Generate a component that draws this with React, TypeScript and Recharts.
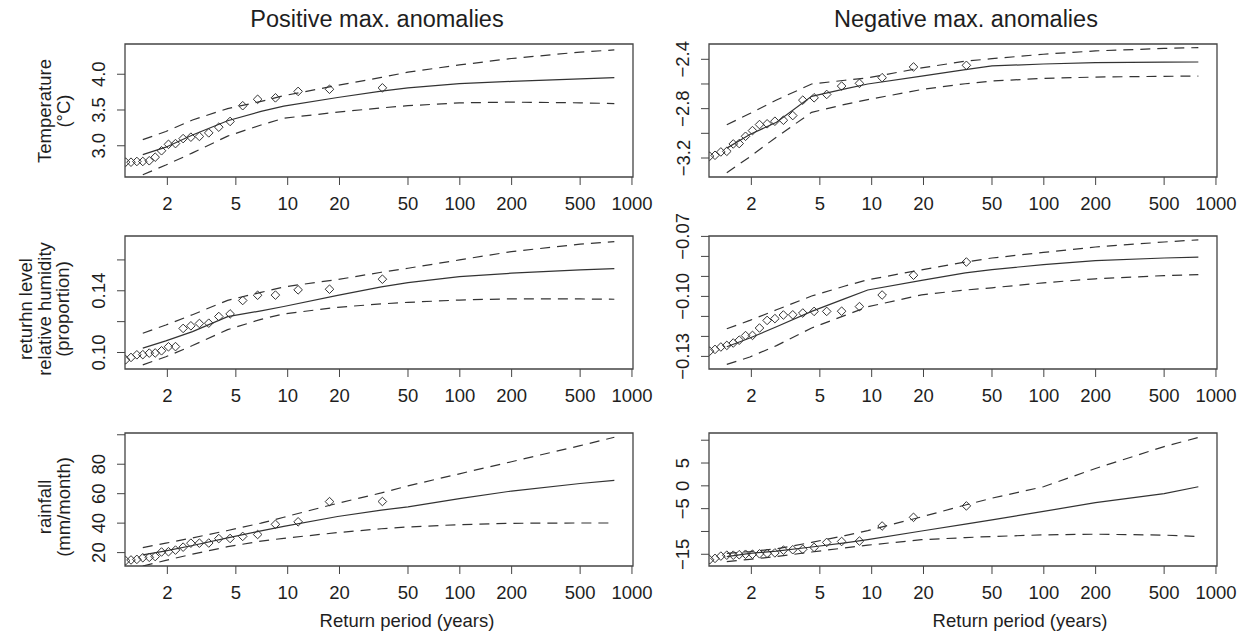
import React from "react";
import { ComposedChart, Line, Scatter, XAxis, YAxis, ReferenceArea } from "recharts";

// empirical return periods (years) of the plotted maxima
const returnPeriods = [1.145, 1.23, 1.33, 1.44, 1.57, 1.7, 1.85, 2.03, 2.23, 2.47, 2.74, 3.07, 3.48, 3.98, 4.63, 5.48, 6.69, 8.49, 11.5, 17.5, 35.5];
// return periods where the fitted curve and its bounds are drawn
const curvePeriods = [1.44, 1.96, 2.8, 4.48, 7, 9.49, 19.5, 35, 50, 99.5, 199.5, 500, 790];
const xTicks = [2, 5, 10, 20, 50, 100, 200, 500, 1000];

// temperature, positive anomalies
const tempPosPoints = [2.77, 2.77, 2.78, 2.78, 2.79, 2.84, 2.93, 3.02, 3.03, 3.1, 3.12, 3.13, 3.18, 3.26, 3.34, 3.56, 3.65, 3.67, 3.76, 3.79, 3.81];
const tempPosFit = [2.875, 2.98, 3.15, 3.35, 3.48, 3.555, 3.675, 3.765, 3.81, 3.87, 3.9, 3.935, 3.953];
const tempPosUpper = [3.085, 3.2, 3.36, 3.52, 3.62, 3.7, 3.845, 3.955, 4.03, 4.13, 4.22, 4.31, 4.34];
const tempPosLower = [2.595, 2.73, 2.9, 3.135, 3.29, 3.385, 3.47, 3.53, 3.56, 3.6, 3.61, 3.6, 3.59];

// temperature, negative anomalies
const tempNegPoints = [-3.186, -3.178, -3.151, -3.146, -3.086, -3.083, -3.024, -2.978, -2.929, -2.923, -2.902, -2.894, -2.856, -2.731, -2.712, -2.685, -2.617, -2.595, -2.549, -2.462, -2.449];
const tempNegFit = [-3.12, -3.01, -2.91, -2.7, -2.64, -2.6, -2.537, -2.484, -2.454, -2.438, -2.427, -2.423, -2.422];
const tempNegUpper = [-2.93, -2.84, -2.73, -2.6, -2.57, -2.55, -2.47, -2.415, -2.395, -2.359, -2.332, -2.312, -2.305];
const tempNegLower = [-3.32, -3.19, -3.03, -2.83, -2.765, -2.727, -2.645, -2.598, -2.576, -2.555, -2.544, -2.538, -2.536];

// relative humidity, positive anomalies
const humPosPoints = [0.0953, 0.0968, 0.0985, 0.0986, 0.0996, 0.0997, 0.1011, 0.1037, 0.1038, 0.1156, 0.1173, 0.1188, 0.119, 0.1233, 0.125, 0.1337, 0.1371, 0.1372, 0.1406, 0.141, 0.1475];
const humPosFit = [0.1028, 0.1075, 0.1135, 0.1232, 0.127, 0.1298, 0.137, 0.1425, 0.1453, 0.1492, 0.1514, 0.1535, 0.1544];
const humPosUpper = [0.1125, 0.1178, 0.1245, 0.1338, 0.139, 0.1425, 0.1473, 0.152, 0.1546, 0.16, 0.1654, 0.1702, 0.1719];
const humPosLower = [0.092, 0.0972, 0.1045, 0.1148, 0.1215, 0.125, 0.1293, 0.1315, 0.1325, 0.134, 0.1348, 0.1347, 0.1345];

// relative humidity, negative anomalies
const humNegPoints = [-0.1274, -0.1265, -0.1253, -0.1245, -0.1233, -0.1219, -0.1196, -0.1195, -0.1158, -0.112, -0.1111, -0.1093, -0.1092, -0.1083, -0.1075, -0.1075, -0.1074, -0.1051, -0.0993, -0.0894, -0.0828];
const humNegFit = [-0.1252, -0.1208, -0.1152, -0.1075, -0.1011, -0.0968, -0.092, -0.0882, -0.0866, -0.0841, -0.0821, -0.0808, -0.0804];
const humNegUpper = [-0.1162, -0.112, -0.1067, -0.0998, -0.0948, -0.0917, -0.0867, -0.0828, -0.0808, -0.078, -0.0753, -0.0728, -0.0717];
const humNegLower = [-0.134, -0.1303, -0.1246, -0.1158, -0.1095, -0.1052, -0.0992, -0.0968, -0.0957, -0.0932, -0.0912, -0.0896, -0.0891];

// rainfall, positive anomalies
const rainPosPoints = [14.5, 15.0, 15.4, 16.5, 16.8, 17.3, 20.4, 20.6, 21.7, 23.7, 26.4, 26.4, 26.5, 29.5, 29.6, 31.0, 32.3, 39.2, 40.9, 54.6, 54.7];
const rainPosFit = [18.4, 21.2, 24.8, 30.0, 34.8, 37.8, 44.5, 48.8, 51.1, 56.6, 61.8, 66.9, 69.0];
const rainPosUpper = [23.4, 26.4, 30.0, 35.0, 40.0, 44.0, 53.5, 60.5, 65.3, 73.5, 81.7, 92.6, 98.3];
const rainPosLower = [10.9, 14.7, 19.0, 24.0, 27.8, 29.7, 33.6, 36.2, 37.4, 39.0, 39.9, 40.1, 40.1];

// rainfall, negative anomalies
const rainNegPoints = [-16.2, -15.9, -15.4, -15.2, -15.2, -15.1, -15.0, -15.0, -14.9, -14.8, -14.7, -14.1, -14.0, -13.9, -13.5, -12.4, -12.2, -12.1, -8.8, -6.9, -4.4];
const rainNegFit = [-15.5, -14.8, -14.3, -13.4, -12.5, -11.8, -9.9, -8.4, -7.45, -5.6, -3.7, -1.7, -0.2];
const rainNegUpper = [-14.8, -14.4, -13.8, -12.4, -10.9, -9.8, -6.8, -4.2, -2.7, -0.2, 3.8, 8.6, 10.6];
const rainNegLower = [-16.6, -16.1, -15.5, -14.5, -13.6, -13.0, -11.8, -11.35, -11.1, -10.75, -10.6, -10.8, -11.1];

// y ticks and their labels ("" = tick without label)
const tempPosTicks = [3.0, 3.5, 4.0];
const tempPosLabels = ["3.0", "3.5", "4.0"];
const tempNegTicks = [-3.2, -3.0, -2.8, -2.6, -2.4];
const tempNegLabels = ["\u22123.2", "", "\u22122.8", "", "\u22122.4"];
const humPosTicks = [0.1, 0.12, 0.14, 0.16];
const humPosLabels = ["0.10", "", "0.14", ""];
const humNegTicks = [-0.13, -0.12, -0.11, -0.1, -0.09, -0.08, -0.07];
const humNegLabels = ["\u22120.13", "", "", "\u22120.10", "", "", "\u22120.07"];
const rainPosTicks = [20, 40, 60, 80, 100];
const rainPosLabels = ["20", "40", "60", "80", ""];
const rainNegTicks = [-15, -10, -5, 0, 5, 10];
const rainNegLabels = ["\u221215", "", "\u22125", "0", "5", ""];

const FONT = '"Liberation Sans", Arial, Helvetica, sans-serif';
const INK = "#1e1e1e";
const LINE = "#333";
const FRAME = "#444";

const X_DOMAIN = [1.135, 1014];
const PLOT_W = 508;
const PLOT_H = 133;
const YW = 70;
const MT = 32;
const MR = 30;
const XH = 45;

const toPoints = (xs: number[], ys: number[]) => ys.map((y, i) => ({ x: xs[i], y }));

function Diamond(props: any) {
  const { cx, cy } = props;
  if (cx == null || cy == null) return null;
  const r = 4.3;
  return (
    <path
      d={`M${cx},${cy - r}L${cx + r},${cy}L${cx},${cy + r}L${cx - r},${cy}Z`}
      fill="none"
      stroke={LINE}
      strokeWidth={1}
    />
  );
}

type PanelProps = {
  left: number;
  top: number;
  domain: number[];
  yTicks: number[];
  yLabels: string[];
  points: number[];
  fit: number[];
  upper: number[];
  lower: number[];
};

function Panel({ left, top, domain, yTicks, yLabels, points, fit, upper, lower }: PanelProps) {
  const labelX = YW - 19.5;
  return (
    <div style={{ position: "absolute", left: left - YW, top: top - MT }}>
      <ComposedChart
        width={YW + PLOT_W + MR}
        height={MT + PLOT_H + XH}
        margin={{ top: MT, right: MR, left: 0, bottom: 0 }}
      >
        <XAxis
          dataKey="x"
          type="number"
          scale="log"
          domain={X_DOMAIN}
          allowDataOverflow
          ticks={xTicks}
          interval={0}
          height={XH}
          axisLine={false}
          stroke={FRAME}
          tickSize={8}
          tick={(p: any) => (
            <text
              x={p.x}
              y={MT + PLOT_H + 32.5}
              textAnchor="middle"
              fontFamily={FONT}
              fontSize={18.5}
              fill={INK}
            >
              {p.payload.value}
            </text>
          )}
        />
        <YAxis
          dataKey="y"
          type="number"
          domain={domain}
          allowDataOverflow
          ticks={yTicks}
          interval={0}
          width={YW}
          axisLine={false}
          stroke={FRAME}
          tickSize={8}
          tick={(p: any) => (
            <text
              x={labelX}
              y={p.y}
              transform={`rotate(-90 ${labelX} ${p.y})`}
              textAnchor="middle"
              fontFamily={FONT}
              fontSize={18.5}
              fill={INK}
            >
              {yLabels[p.index] ?? ""}
            </text>
          )}
        />
        <ReferenceArea
          x1={X_DOMAIN[0]}
          x2={X_DOMAIN[1]}
          y1={domain[0]}
          y2={domain[1]}
          fill="none"
          stroke={FRAME}
          strokeWidth={1.3}
          ifOverflow="visible"
        />
        <Line
          data={toPoints(curvePeriods, upper)}
          dataKey="y"
          type="linear"
          stroke={LINE}
          strokeWidth={1.2}
          strokeDasharray="10 7"
          dot={false}
          isAnimationActive={false}
        />
        <Line
          data={toPoints(curvePeriods, lower)}
          dataKey="y"
          type="linear"
          stroke={LINE}
          strokeWidth={1.2}
          strokeDasharray="10 7"
          dot={false}
          isAnimationActive={false}
        />
        <Line
          data={toPoints(curvePeriods, fit)}
          dataKey="y"
          type="linear"
          stroke={LINE}
          strokeWidth={1.2}
          dot={false}
          isAnimationActive={false}
        />
        <Scatter
          data={toPoints(returnPeriods, points)}
          dataKey="y"
          shape={Diamond}
          isAnimationActive={false}
        />
      </ComposedChart>
    </div>
  );
}

const yTitles = [
  { cy: 111, xs: [44, 63], lines: ["Temperature", "(\u00b0C)"] },
  { cy: 309, xs: [25, 44, 62.5], lines: ["returhn level", "relative humidity", "(proportion)"] },
  { cy: 507, xs: [44, 63], lines: ["rainfall", "(mm/month)"] },
];

export default function App() {
  return (
    <div
      style={{
        position: "absolute",
        left: 0,
        top: 0,
        width: 1242,
        height: 634,
        background: "#fff",
        overflow: "hidden",
      }}
    >
      <Panel left={125} top={44} domain={[2.563, 4.423]} yTicks={tempPosTicks} yLabels={tempPosLabels}
        points={tempPosPoints} fit={tempPosFit} upper={tempPosUpper} lower={tempPosLower} />
      <Panel left={709} top={44} domain={[-3.354, -2.276]} yTicks={tempNegTicks} yLabels={tempNegLabels}
        points={tempNegPoints} fit={tempNegFit} upper={tempNegUpper} lower={tempNegLower} />
      <Panel left={125} top={236} domain={[0.0893, 0.1755]} yTicks={humPosTicks} yLabels={humPosLabels}
        points={humPosPoints} fit={humPosFit} upper={humPosUpper} lower={humPosLower} />
      <Panel left={709} top={236} domain={[-0.1363, -0.0698]} yTicks={humNegTicks} yLabels={humNegLabels}
        points={humNegPoints} fit={humNegFit} upper={humNegUpper} lower={humNegLower} />
      <Panel left={125} top={433} domain={[10.9, 101.2]} yTicks={rainPosTicks} yLabels={rainPosLabels}
        points={rainPosPoints} fit={rainPosFit} upper={rainPosUpper} lower={rainPosLower} />
      <Panel left={709} top={433} domain={[-17.57, 11.58]} yTicks={rainNegTicks} yLabels={rainNegLabels}
        points={rainNegPoints} fit={rainNegFit} upper={rainNegUpper} lower={rainNegLower} />

      <svg
        width={1242}
        height={634}
        style={{ position: "absolute", left: 0, top: 0, pointerEvents: "none" }}
        fontFamily={FONT}
        fill={INK}
      >
        <text x={377} y={27} fontSize={23.5} textAnchor="middle">Positive max. anomalies</text>
        <text x={966} y={27} fontSize={23.5} textAnchor="middle">Negative max. anomalies</text>
        <text x={407} y={627} fontSize={18.5} textAnchor="middle">Return period (years)</text>
        <text x={1020} y={627} fontSize={18.5} textAnchor="middle">Return period (years)</text>
        {yTitles.map((t) =>
          t.lines.map((line, i) => (
            <text
              key={line}
              x={t.xs[i]}
              y={t.cy}
              transform={`rotate(-90 ${t.xs[i]} ${t.cy})`}
              textAnchor="middle"
              dominantBaseline="central"
              fontSize={18.5}
            >
              {line}
            </text>
          ))
        )}
      </svg>
    </div>
  );
}
